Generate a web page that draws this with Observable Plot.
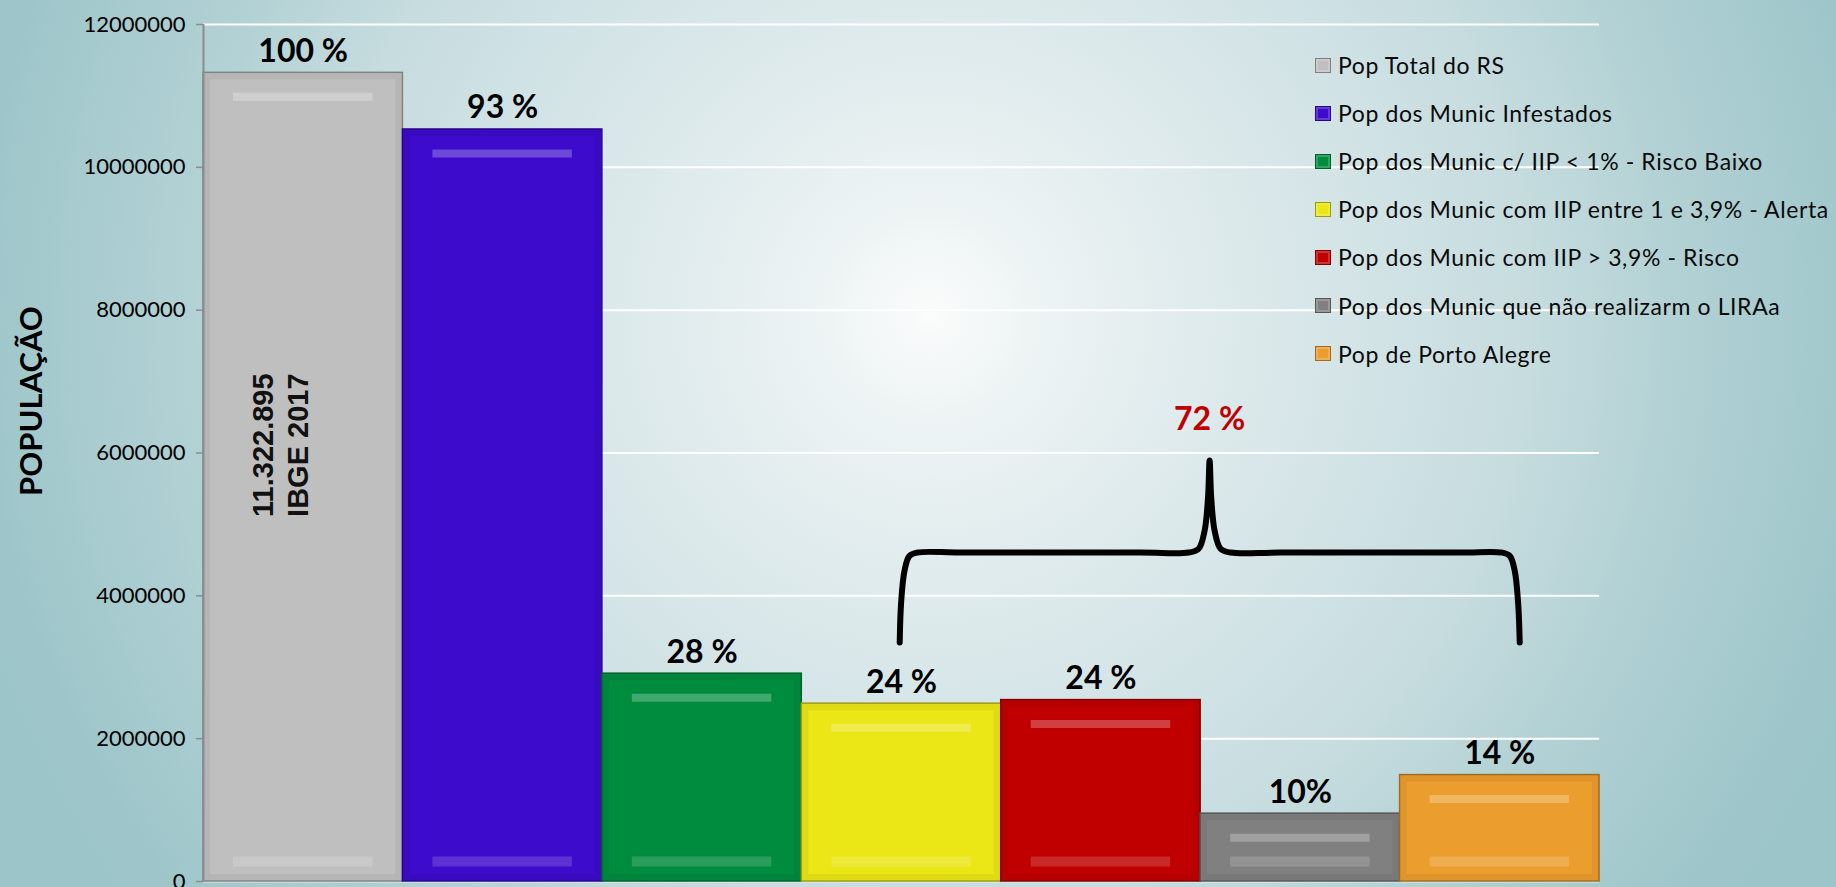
<!DOCTYPE html>
<html>
<head>
<meta charset="utf-8">
<script src="https://cdn.jsdelivr.net/npm/d3@7"></script>
<script src="https://cdn.jsdelivr.net/npm/@observablehq/plot@0.6"></script>
<style>
  html, body { margin: 0; padding: 0; width: 1836px; height: 887px; overflow: hidden; }
  body {
    position: relative;
    font-family: Lato, "Open Sans", sans-serif;
    background: radial-gradient(circle 1000px at 930px 315px,
      #fbfcfc 0%, #eef4f4 10%, #e1ecee 25%, #c6dcdf 60%, #b2d1d4 75%, #9ec6ca 95%, #9cc5c9 100%);
  }
  #chart { position: absolute; left: 0; top: 0; }
  #chart svg { display: block; }
  #chart g[aria-label="y-axis tick"] path,
  #chart g[aria-label="y-axis"] line,
  #chart g[aria-label="y-axis"] path { stroke: #8c8c8c; stroke-width: 1.5; }
  #legend { position: absolute; left: 1315px; top: 41px; }
  #legend .item { display: flex; align-items: center; height: 48.1px; font-size: 23px; letter-spacing: 0.6px; color: #0a0a0a; white-space: nowrap; }
  #legend .sw { width: 14px; height: 13px; margin-right: 7px; border: 1px solid; box-shadow: inset 0 0 0 2px rgba(255,255,255,0.2); }
</style>
</head>
<body>
<div id="chart"></div>
<div id="legend"></div>
<script>
// ---- data ----
const categories = [
  "Pop Total do RS",
  "Pop dos Munic Infestados",
  "Pop dos Munic c/ IIP < 1% - Risco Baixo",
  "Pop dos Munic com IIP entre 1 e 3,9% - Alerta",
  "Pop dos Munic com IIP > 3,9% - Risco",
  "Pop dos Munic que não realizarm o LIRAa",
  "Pop de Porto Alegre"
];
const values = [11322895, 10530000, 2910000, 2490000, 2540000, 950000, 1490000];
const percentLabels = ["100 %", "93 %", "28 %", "24 %", "24 %", "10%", "14 %"];
const colors = ["#bfbfbf", "#3d0bcc", "#008c3e", "#ebe615", "#c00000", "#808080", "#eb9e2e"];
const yTicks = [0, 2000000, 4000000, 6000000, 8000000, 10000000, 12000000];
const totalNote = ["11.322.895", "IBGE 2017"];
const groupLabel = "72 %";
const axisTitle = "POPULAÇÃO";
// brace annotation (x in bar-index units, y in population)
const braceX = [2.991, 2.998, 3.015, 3.04, 3.08, 3.3, 4.2, 4.44, 4.49, 4.52, 4.537, 4.545, 4.553, 4.570, 4.60, 4.65, 4.9, 5.8, 6.01, 6.05, 6.075, 6.092, 6.100];
const braceY = [3346000, 3900000, 4350000, 4560000, 4606000, 4606000, 4606000, 4606000, 4660000, 4914000, 5376000, 5895000, 5376000, 4914000, 4660000, 4606000, 4606000, 4606000, 4606000, 4560000, 4350000, 3900000, 3346000];

// ---- tables built from the arrays ----
const data = categories.map((c, i) => ({
  i, category: c, value: values[i], pct: percentLabels[i], color: colors[i],
  dark: d3.color(colors[i]).darker(1.1).formatHex()
}));
const brace = braceX.map((x, k) => ({x, y: braceY[k]}));
const tip = brace.reduce((a, b) => (b.y > a.y ? b : a));

const chart = Plot.plot({
  width: 1836,
  height: 887,
  marginLeft: 203,
  marginRight: 237,
  marginTop: 24,
  marginBottom: 6,
  style: {background: "transparent", fontFamily: "Lato, sans-serif", fontSize: "22px", color: "#000", overflow: "visible"},
  x: {domain: [-0.5, 6.5], axis: null},
  y: {domain: [0, 12000000], ticks: 6, tickFormat: d => String(d), tickSize: 7, tickPadding: 11, label: null},
  color: {type: "identity"},
  marks: [
    Plot.ruleY(yTicks.slice(1), {stroke: "#ffffff", strokeWidth: 2}),
    Plot.ruleY([0], {stroke: "#e2eeef", strokeWidth: 2}),
    Plot.rect(data, {x1: d => d.i - 0.5, x2: d => d.i + 0.5, y1: d => 0, y2: "value", fill: "color", stroke: "dark", strokeWidth: 1.5}),
    // bevel-like inner edge
    Plot.rect(data, {x1: d => d.i - 0.5, x2: d => d.i + 0.5, y1: d => 0, y2: "value", inset: 4, fill: "none", stroke: "dark", strokeOpacity: 0.16, strokeWidth: 6}),
    // top and bottom highlight bands
    Plot.ruleY(data, {y: "value", x1: d => d.i - 0.5, x2: d => d.i + 0.5, insetLeft: 30, insetRight: 30, dy: 24, stroke: "#ffffff", strokeOpacity: 0.25, strokeWidth: 8}),
    Plot.ruleY(data, {y: d => 0, x1: d => d.i - 0.5, x2: d => d.i + 0.5, insetLeft: 30, insetRight: 30, dy: -20, stroke: "#ffffff", strokeOpacity: 0.16, strokeWidth: 10}),
    Plot.ruleX([-0.5], {stroke: "#8c8c8c", strokeWidth: 2}),
    Plot.text(data, {x: "i", y: "value", text: "pct", lineAnchor: "bottom", dy: -11, fontSize: 32, fontWeight: "bold", fill: "#000"}),
    Plot.text([data[0]], {x: "i", y: d => d.value / 2, text: () => totalNote.join("\n"), rotate: -90, dx: -24, dy: -32,
      fontFamily: "Liberation Sans, Arial, sans-serif", fontWeight: "bold", fontSize: 29, lineHeight: 1.2, fill: "#111"}),
    Plot.line(brace, {x: "x", y: "y", curve: "catmull-rom", stroke: "#000", strokeWidth: 6, strokeLinecap: "round", strokeLinejoin: "round"}),
    Plot.text([tip], {x: "x", y: "y", text: () => groupLabel, lineAnchor: "bottom", dy: -30, fontSize: 32, fontWeight: "bold", fill: "#c00000"}),
    Plot.text([axisTitle], {frameAnchor: "left", textAnchor: "middle", text: d => d, rotate: -90, dx: -171, dy: -52, fontSize: 31, fontWeight: "bold", fill: "#000"})
  ]
});
document.getElementById("chart").appendChild(chart);

// legend
const legend = document.getElementById("legend");
data.forEach(d => {
  const row = document.createElement("div");
  row.className = "item";
  const sw = document.createElement("span");
  sw.className = "sw";
  sw.style.background = d.color;
  sw.style.borderColor = d.dark;
  const lab = document.createElement("span");
  lab.textContent = d.category;
  row.appendChild(sw);
  row.appendChild(lab);
  legend.appendChild(row);
});
</script>
</body>
</html>
